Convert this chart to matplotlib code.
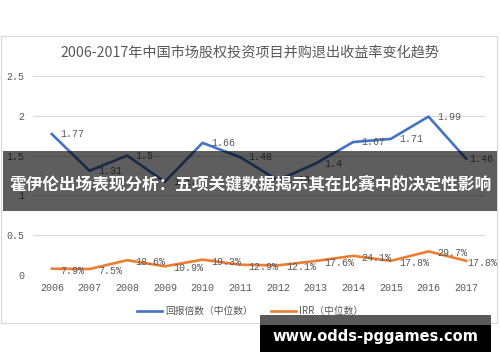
import matplotlib
matplotlib.use('Agg')
from matplotlib import pyplot as plt
from matplotlib.patches import Rectangle

plt.rcParams['font.family'] = ['Noto Sans CJK SC', 'DejaVu Sans']

# Data
years = ['2006', '2007', '2008', '2009', '2010', '2011',
         '2012', '2013', '2014', '2015', '2016', '2017']
multiple = [1.77, 1.31, 1.5, 1.17, 1.66, 1.48, 1.19, 1.4, 1.67, 1.71, 1.99, 1.46]
irr = [0.079, 0.075, 0.186, 0.109, 0.193, 0.129, 0.121, 0.176, 0.241, 0.178, 0.297, 0.178]
irr_labels = ['7.9%', '7.5%', '18.6%', '10.9%', '19.3%', '12.9%',
              '12.1%', '17.6%', '24.1%', '17.8%', '29.7%', '17.8%']
yticks = [0, 0.5, 1, 1.5, 2, 2.5]
ytick_labels = ['0', '0.5', '1', '1.5', '2', '2.5']

title = '2006-2017年中国市场股权投资项目并购退出收益率变化趋势'
legend_names = ['回报倍数（中位数）', 'IRR（中位数）']
banner = '霍伊伦出场表现分析：五项关键数据揭示其在比赛中的决定性影响'
watermark = 'www.odds-pggames.com'

gray = '#595959'
blue = '#4472C4'
orange = '#ED7D31'
W, H = 500.0, 362.0

fig = plt.figure(figsize=(5, 3.62), dpi=100)
fig.patch.set_facecolor('white')

# chart border
fig.patches.append(Rectangle((1/W, 1-323/H), 496/W, 287/H, transform=fig.transFigure,
                             fill=False, edgecolor='#D9D9D9', lw=0.8, zorder=1))

ax = fig.add_axes([33/W, 1-275/H, 452/W, 199/H])
x = list(range(len(years)))
l1, = ax.plot(x, multiple, color=blue, lw=1.9, solid_joinstyle='round', zorder=3)
l2, = ax.plot(x, irr, color=orange, lw=1.9, solid_joinstyle='round', zorder=3)

mono = 'Liberation Mono'
last = len(years) - 1
for xi, v in zip(x, multiple):
    dx = 2 if xi == last else 6
    ax.annotate('%g' % v, (xi, v), xytext=(dx, 0), textcoords='offset points',
                ha='left', va='center', fontsize=7.2, color=gray, family=mono)
for xi, v, s in zip(x, irr, irr_labels):
    dx = 1 if xi == last else 6
    ax.annotate(s, (xi, v), xytext=(dx, -1.5), textcoords='offset points',
                ha='left', va='center', fontsize=7.2, color=gray, family=mono)

ax.set_xlim(-0.5, len(years) - 0.5)
ax.set_ylim(0, 2.5)
ax.set_yticks(yticks)
ax.set_yticklabels(ytick_labels, family=mono, fontsize=7.2, color=gray)
ax.set_xticks(x)
ax.set_xticklabels(years, family=mono, fontsize=7.2, color=gray)
ax.tick_params(length=0, pad=6)
ax.grid(axis='y', color='#D9D9D9', lw=0.8)
ax.set_axisbelow(True)
for s in ax.spines.values():
    s.set_visible(False)

fig.text(0.5, 1-53/H, title, ha='center', va='center', fontsize=10.2, color=gray)

fig.legend([l1, l2], legend_names, loc='center', bbox_to_anchor=(0.5, 1-311/H),
           ncol=2, frameon=False, fontsize=7, labelcolor=gray,
           handlelength=2.6, handletextpad=0.3, columnspacing=1.9)

# overlay banner
fig.patches.append(Rectangle((3/W, 1-211/H), 494/W, 60/H, transform=fig.transFigure,
                             facecolor='black', alpha=0.63, edgecolor='none', zorder=10))
fig.text(0.5, 1-184/H, banner, ha='center', va='center', fontsize=12.0,
         color='white', weight='bold', zorder=11)

# watermark
fig.patches.append(Rectangle((260/W, 1-325/H), 231/W, 10/H, transform=fig.transFigure,
                             facecolor='#5a5a5a', edgecolor='none', zorder=10))
fig.patches.append(Rectangle((260/W, 1-352/H), 231/W, 27/H, transform=fig.transFigure,
                             facecolor='black', edgecolor='none', zorder=10))
fig.text(375/W, 1-337/H, watermark, ha='center', va='center', fontsize=10.5,
         color='white', weight='bold', family='DejaVu Sans', zorder=11)

fig.savefig('out.png', dpi=100)
